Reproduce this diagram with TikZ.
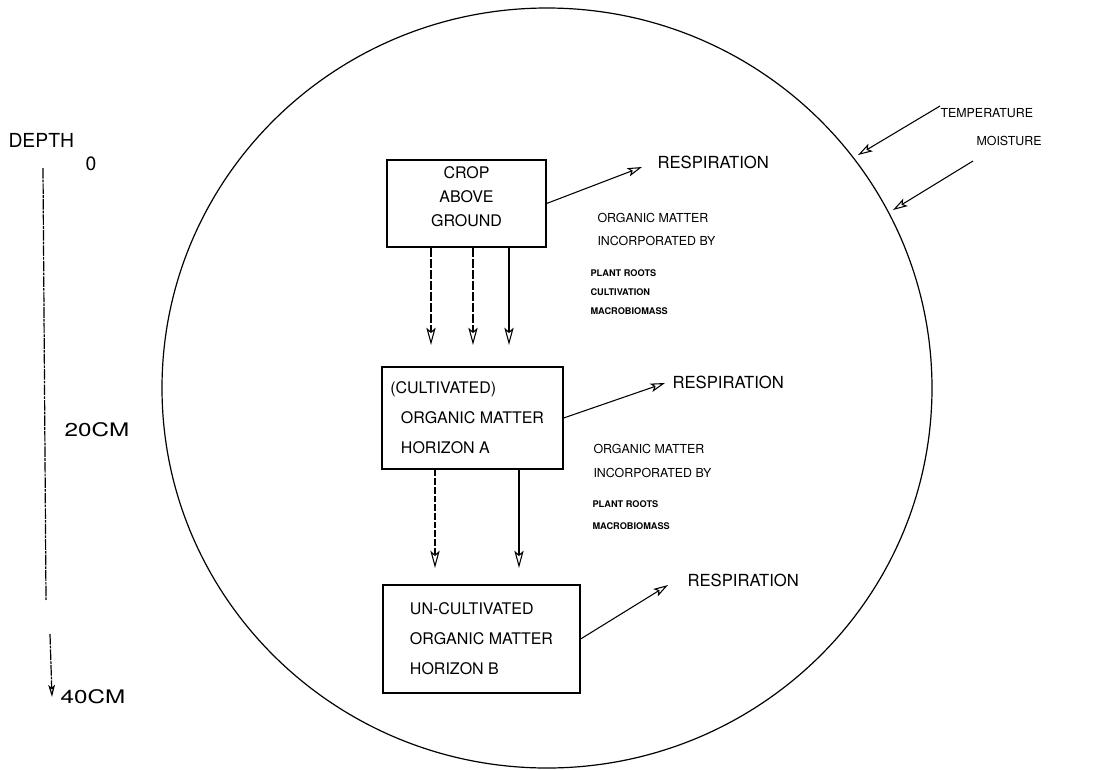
\documentclass[tikz,border=0pt]{standalone}
\usepackage{fontspec}
\setmainfont{TeX Gyre Heros}
\newfontfamily\widefont[FakeStretch=1.3]{TeX Gyre Heros}
\usetikzlibrary{arrows.meta}
\begin{document}
\begin{tikzpicture}[x=0.75pt,y=-0.75pt,line width=0.8pt,
  box/.style={draw,line width=0.9pt,inner sep=0pt},
  bigtxt/.style={font=\fontsize{12}{18}\selectfont},
  boxtxt/.style={font=\fontsize{12}{22.5}\selectfont,align=left},
  midtxt/.style={font=\fontsize{9.3}{11}\selectfont,inner sep=0pt,anchor=west},
  tinytxt/.style={font=\bfseries\fontsize{6.9}{8}\selectfont,inner sep=0pt,anchor=west},
  lbl/.style={font=\fontsize{12.5}{14}\selectfont,inner sep=0pt,anchor=west},
  scalelbl/.style={font=\fontsize{14.5}{18}\selectfont,inner sep=0pt,anchor=west},
  widelbl/.style={font=\widefont\fontsize{14}{18}\selectfont,inner sep=0pt,anchor=west},
  flow/.style={-{Stealth[open,length=13pt,width=7pt,inset=3pt]}},
  resp/.style={-{Stealth[open,length=11pt,width=6.5pt,inset=2.5pt]}},
  broken/.style={dash pattern=on 7pt off 1.3pt},
  dotline/.style={line width=0.9pt,dash pattern=on 8pt off 0.8pt on 2pt off 0.8pt}]
\useasboundingbox (0,0) rectangle (1101,769);

% soil body
\draw[line width=0.9pt] (547,388) ellipse [x radius=385, y radius=380];

% depth scale
\node[scalelbl] (depth) at (8,140) {DEPTH};
\node[scalelbl] (d0) at (85,164) {0};
\node[widelbl] (d20) at (64,430) {20CM};
\node[widelbl] (d40) at (60,697) {40CM};
\coordinate (dtop) at (43,168);
\coordinate (dgap1) at (46,600);
\coordinate (dgap2) at (50,634);
\draw[dotline] (dtop) -- (dgap1);
\draw[dotline,-{Stealth[open,length=9pt,width=5pt,inset=2pt]}] (dgap2) -- (d40.west -| 52,0);

% compartments
\node[box,minimum width=119.25pt,minimum height=65.25pt] (crop) at (466.5,203.5) {};
\node[bigtxt,align=center,inner sep=0pt] (croptxt) at ([yshift=5pt]crop.center) {CROP\\ABOVE\\GROUND};
\node[box,boxtxt,minimum width=135.75pt,minimum height=76.5pt]
  (hora) at (472.5,418) {\hspace*{-8pt}(CULTIVATED)\\ORGANIC MATTER\\HORIZON A};
\node[box,boxtxt,minimum width=147.75pt,minimum height=81pt]
  (horb) at (481.5,639) {UN-CULTIVATED\\ORGANIC MATTER\\HORIZON B};

% transfers downward
\draw[flow,broken] (431,0 |- crop.south) -- (431,345);
\draw[flow,broken] (473,0 |- crop.south) -- (473,345);
\draw[flow] (509,0 |- crop.south) -- (509,345);
\draw[flow,dash pattern=on 5pt off 1.5pt] (435,0 |- hora.south) -- (435,568);
\draw[flow] (519,0 |- hora.south) -- (519,568);

% respiration
\node[lbl] (resp1) at (657,162) {RESPIRATION};
\node[lbl] (resp2) at (672,382) {RESPIRATION};
\node[lbl] (resp3) at (687,580) {RESPIRATION};
\coordinate (tip1) at (642,167);
\coordinate (tip2) at (665,383);
\coordinate (tip3) at (668,585);
\draw[resp] (crop.east) -- (tip1);
\draw[resp] (hora.east) -- (tip2);
\draw[resp] (horb.east) -- (tip3);

% incorporation notes
\node[midtxt] (om1) at (597,218) {ORGANIC MATTER};
\node[midtxt] (inc1) at (597,241) {INCORPORATED BY};
\node[tinytxt] (pr1) at (590,273) {PLANT ROOTS};
\node[tinytxt] (cu1) at (590,292) {CULTIVATION};
\node[tinytxt] (mb1) at (590,311) {MACROBIOMASS};
\node[midtxt] (om2) at (593,449) {ORGANIC MATTER};
\node[midtxt] (inc2) at (593,473) {INCORPORATED BY};
\node[tinytxt] (pr2) at (592,504) {PLANT ROOTS};
\node[tinytxt] (mb2) at (592,526) {MACROBIOMASS};

% external factors
\node[font=\fontsize{9.3}{11}\selectfont,inner sep=0pt,anchor=west] (temp) at (940,113) {TEMPERATURE};
\node[font=\fontsize{9.3}{11}\selectfont,inner sep=0pt,anchor=west] (moist) at (976,141) {MOISTURE};
\coordinate (t1) at (940,106);
\coordinate (t2) at (973,161);
\coordinate (h1) at (858,155);
\coordinate (h2) at (893,210);
\draw[resp] (t1) -- (h1);
\draw[resp] (t2) -- (h2);
\end{tikzpicture}
\end{document}
